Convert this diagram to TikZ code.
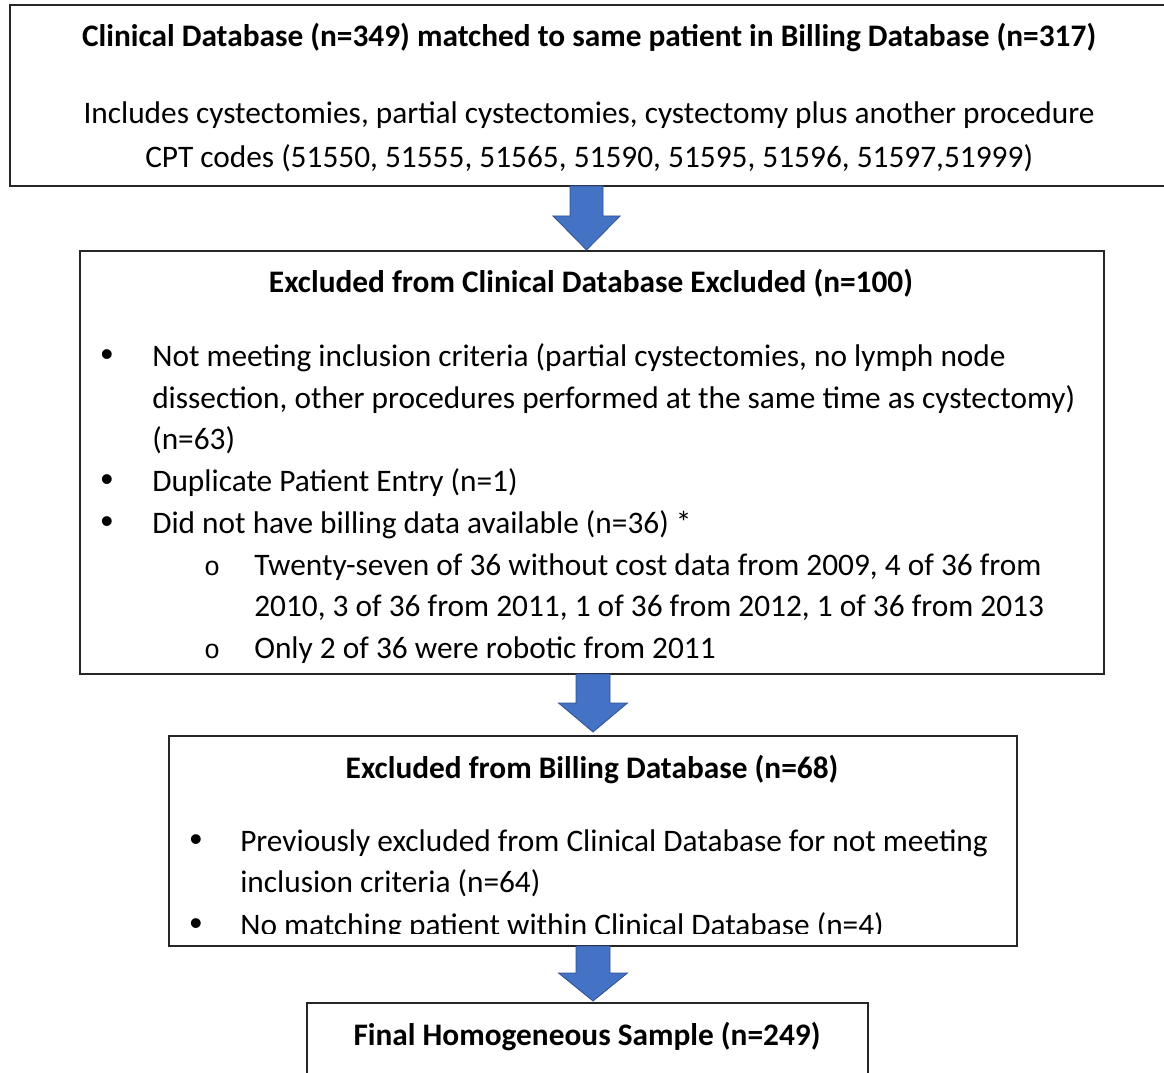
\documentclass[tikz,border=0pt]{standalone}
\usepackage{fontspec}
\setmainfont{Carlito}
\newfontfamily\bulletfont{Liberation Sans}
\newfontfamily\subbulletfont{Liberation Mono}
\definecolor{arrowfill}{HTML}{4472C4}
\definecolor{arrowline}{HTML}{2F528F}
\definecolor{boxline}{HTML}{262626}
\begin{document}
\begin{tikzpicture}[x=0.75pt,y=-0.75pt,
  box/.style={draw=boxline,line width=1pt,fill=white},
  txt/.style={inner sep=0pt,anchor=base west,font=\fontsize{23.5}{28}\selectfont},
  ttl/.style={inner sep=0pt,anchor=base,font=\fontsize{23.5}{28}\selectfont\bfseries},
  ctr/.style={inner sep=0pt,anchor=base,font=\fontsize{23.5}{28}\selectfont},
  bul/.style={inner sep=0pt,anchor=base,font=\fontsize{27}{28}\bulletfont},
  sbul/.style={inner sep=0pt,anchor=base,font=\fontsize{20}{28}\subbulletfont},
  blk/.style={fill=arrowfill,draw=arrowline,line width=0.6pt,line join=miter}]
\useasboundingbox (0,0) rectangle (1164,1073);
\clip (0,0) rectangle (1164,1073);
\newcommand\blockarrow[6]{% cx, top, headstart, tip, shaft half width, head half width
  \path[blk] ({#1-#5},#2) -- ({#1+#5},#2) -- ({#1+#5},#3) -- ({#1+#6},#3)
    -- (#1,#4) -- ({#1-#6},#3) -- ({#1-#5},#3) -- cycle;}

% boxes
\path[box] (10,5) rectangle (1175,186);
\path[box] (80,251) rectangle (1104,674);
\path[box] (169,736) rectangle (1017,946);
\path[box] (307,1003) rectangle (868,1085);

% box 1
\node[ttl] (t1) at (589,47) {Clinical Database (n=349) matched to same patient in Billing Database (n=317)};
\node[ctr] (t1a) at (589,124) {Includes cystectomies, partial cystectomies, cystectomy plus another procedure};
\node[ctr] (t1b) at (589,168) {CPT codes (51550, 51555, 51565, 51590, 51595, 51596, 51597,51999)};

% box 2
\node[ttl] (t2) at (591,293) {Excluded from Clinical Database Excluded (n=100)};
\node[bul] (u1) at (107,366) {•};
\node[txt] (l1) at (152,366) {Not meeting inclusion criteria (partial cystectomies, no lymph node};
\node[txt] (l2) at (152,408) {dissection, other procedures performed at the same time as cystectomy)};
\node[txt] (l3) at (152,449) {(n=63)};
\node[bul] (u2) at (107,491) {•};
\node[txt] (l4) at (152,491) {Duplicate Patient Entry (n=1)};
\node[bul] (u3) at (107,533) {•};
\node[txt] (l5) at (152,533) {Did not have billing data available (n=36) *};
\node[sbul] (s1) at (212,575) {o};
\node[txt] (l6) at (254,575) {Twenty-seven of 36 without cost data from 2009, 4 of 36 from};
\node[txt] (l7) at (254,616) {2010, 3 of 36 from 2011, 1 of 36 from 2012, 1 of 36 from 2013};
\node[sbul] (s2) at (212,658) {o};
\node[txt] (l8) at (254,658) {Only 2 of 36 were robotic from 2011};

% box 3
\node[ttl] (t3) at (592,778) {Excluded from Billing Database (n=68)};
\node[bul] (v1) at (196,851) {•};
\node[txt] (m1) at (240,851) {Previously excluded from Clinical Database for not meeting};
\node[txt] (m2) at (240,892) {inclusion criteria (n=64)};
\begin{scope}
\clip (169,900) rectangle (1017,933);
\node[bul] (v2) at (196,935) {•};
\node[txt] (m3) at (240,935) {No matching patient within Clinical Database (n=4)};
\end{scope}

% box 4
\node[ttl] (t4) at (587,1045) {Final Homogeneous Sample (n=249)};

% block arrows
\blockarrow{586.5}{186}{216}{250}{16.5}{33.5}
\blockarrow{593}{674}{703}{732}{17}{34.5}
\blockarrow{593}{946}{973}{1001}{17}{34.5}
\end{tikzpicture}
\end{document}
